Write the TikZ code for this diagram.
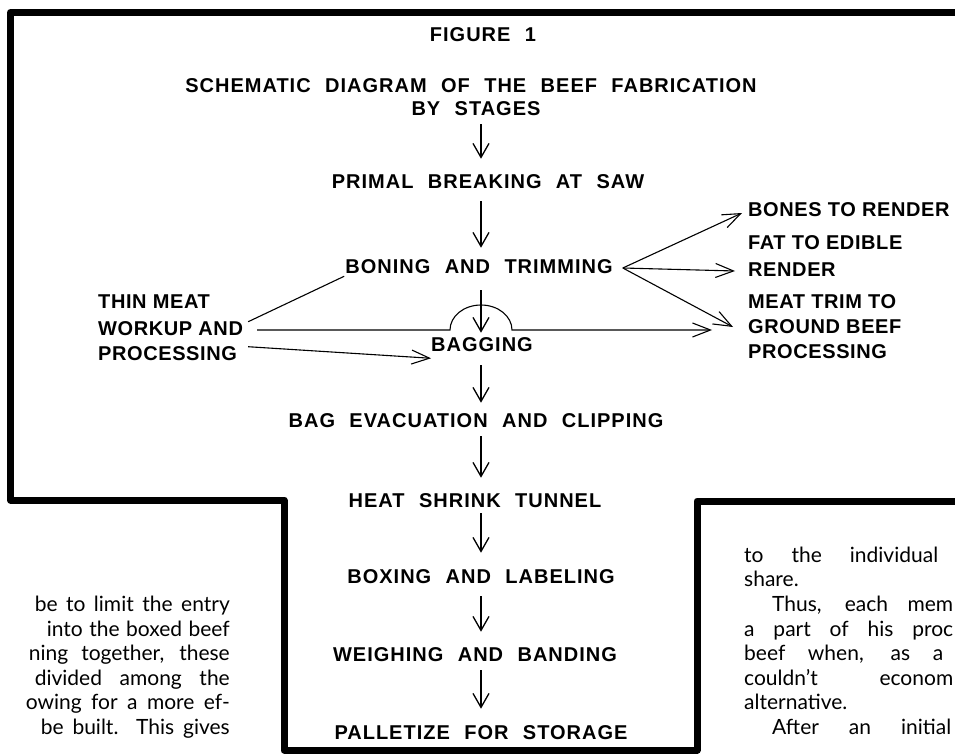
\documentclass[tikz,border=0pt]{standalone}
\usepackage{fontspec}
\setmainfont{Liberation Sans}
\newfontfamily\stagefont{Liberation Sans}[LetterSpace=5,WordSpace=2.2]
\newfontfamily\sidefont{Liberation Sans}[LetterSpace=3]
\newfontfamily\bodyfont{Lato}
\usetikzlibrary{arrows.meta}
\begin{document}
\begin{tikzpicture}[x=1pt,y=-1pt,
  stage/.style={inner sep=0pt, font=\stagefont\bfseries\fontsize{20}{24}\selectfont},
  side/.style={inner sep=0pt, anchor=west, font=\sidefont\bfseries\fontsize{20}{24}\selectfont},
  bodyl/.style={inner sep=0pt, anchor=base east, font=\bodyfont\fontsize{21}{24}\selectfont},
  bodyr/.style={inner sep=0pt, anchor=base west, font=\bodyfont\fontsize{21}{24}\selectfont},
  varr/.style={line width=1.3pt, -{Straight Barb[length=14pt,width=16pt]}},
  harr/.style={line width=1.1pt, -{Straight Barb[length=18pt,width=14pt]}},
  conn/.style={line width=1.1pt},
  frame/.style={line width=7pt, line join=round}
]
\useasboundingbox (0,0) rectangle (955,754);
\fill[white] (0,0) rectangle (955,754);
\begin{scope}
\clip (0,0) rectangle (955,754);
\draw[frame] (975,12.5) -- (10.5,12.5) -- (10.5,500) -- (284,500) -- (284,750) -- (697,750) -- (697,501) -- (975,501);

% main column
\node[stage] (fig) at (483,35) {FIGURE 1};
\node[stage] (title) at (471,86) {SCHEMATIC DIAGRAM OF THE BEEF FABRICATION};
\node[stage] (stages) at (476,109) {BY STAGES};
\node[stage] (primal) at (488,182) {PRIMAL BREAKING AT SAW};
\node[stage] (boning) at (479,267) {BONING AND TRIMMING};
\node[stage] (bagging) at (482,345) {BAGGING};
\node[stage] (evac) at (476,421) {BAG EVACUATION AND CLIPPING};
\node[stage] (heat) at (475,501) {HEAT SHRINK TUNNEL};
\node[stage] (boxing) at (481,577) {BOXING AND LABELING};
\node[stage] (weigh) at (475,655) {WEIGHING AND BANDING};
\node[stage] (pallet) at (481,733) {PALLETIZE FOR STORAGE};

% side labels
\node[side] (thinA) at (98,302) {THIN MEAT};
\node[side] (thinB) at (98,329) {WORKUP AND};
\node[side] (thinC) at (98,354) {PROCESSING};
\node[side] (bones) at (748,210) {BONES TO RENDER};
\node[side] (fatA) at (748,243) {FAT TO EDIBLE};
\node[side] (fatB) at (748,270) {RENDER};
\node[side] (meatA) at (748,302) {MEAT TRIM TO};
\node[side] (meatB) at (748,327) {GROUND BEEF};
\node[side] (meatC) at (748,352) {PROCESSING};

% vertical arrows
\coordinate (axis) at (481,0);
\draw[varr, shorten <=8pt, shorten >=16pt] (stages.south -| axis) -- (primal.north -| axis);
\draw[varr, shorten <=12pt, shorten >=12pt] (primal.south -| axis) -- (boning.north -| axis);
\draw[varr, shorten <=16pt, shorten >=5pt] (boning.south -| axis) -- (bagging.north -| axis);
\draw[varr, shorten <=13pt, shorten >=11pt] (bagging.south -| axis) -- (evac.north -| axis);
\draw[varr, shorten <=8pt, shorten >=16pt] (evac.south -| axis) -- (heat.north -| axis);
\draw[varr, shorten <=5pt, shorten >=17pt] (heat.south -| axis) -- (boxing.north -| axis);
\draw[varr, shorten <=12pt, shorten >=16pt] (boxing.south -| axis) -- (weigh.north -| axis);
\draw[varr, shorten <=8pt, shorten >=17pt] (weigh.south -| axis) -- (pallet.north -| axis);

% fan from boning and trimming
\coordinate (fan) at ([shift={(10,1)}]boning.east);
\draw[harr] (fan) -- ([shift={(-6,3)}]bones.west);
\draw[harr] (fan) -- ([shift={(-13,1)}]fatB.west);
\draw[harr] (fan) -- ([shift={(-15,0)}]meatB.west);

% thin meat connectors
\draw[conn] ([shift={(5,0)}]thinB.north east) -- ([shift={(-1,2)}]boning.south west);
\coordinate (hjA) at (450,330);
\draw[harr] ([shift={(14,1)}]thinB.east) -- (hjA)
   arc[start angle=180, end angle=0, x radius=31pt, y radius=25pt]
   -- ([shift={(-36,3)}]meatB.west);
\draw[harr] ([shift={(11,0)}]thinC.north east) -- ([shift={(0,6)}]bagging.south west);

% body text fragments
\node[bodyl] (l1) at (230,611) {\makebox[195pt][s]{be to limit the entry}};
\node[bodyl] (l2) at (230,636) {\makebox[183pt][s]{into the boxed beef}};
\node[bodyl] (l3) at (230,660) {\makebox[201pt][s]{ning together, these}};
\node[bodyl] (l4) at (230,685) {\makebox[195pt][s]{divided among the}};
\node[bodyl] (l5) at (230,709) {\makebox[204pt][s]{owing for a more ef-}};
\node[bodyl] (l6) at (230,734) {\makebox[189pt][s]{be built. This gives}};

\node[bodyr] (r1) at (744,562) {\makebox[194pt][s]{to the individual}};
\node[bodyr] (r2) at (744,586) {share.};
\node[bodyr] (r3) at (772,611) {\makebox[181pt][s]{Thus, each mem}};
\node[bodyr] (r4) at (744,636) {\makebox[209pt][s]{a part of his proc}};
\node[bodyr] (r5) at (744,660) {\makebox[199pt][s]{beef when, as a}};
\node[bodyr] (r6) at (744,685) {\makebox[209pt][s]{couldn’t econom}};
\node[bodyr] (r7) at (744,709) {alternative.};
\node[bodyr] (r8) at (772,734) {\makebox[179pt][s]{After an initial}};
\end{scope}
\end{tikzpicture}
\end{document}
